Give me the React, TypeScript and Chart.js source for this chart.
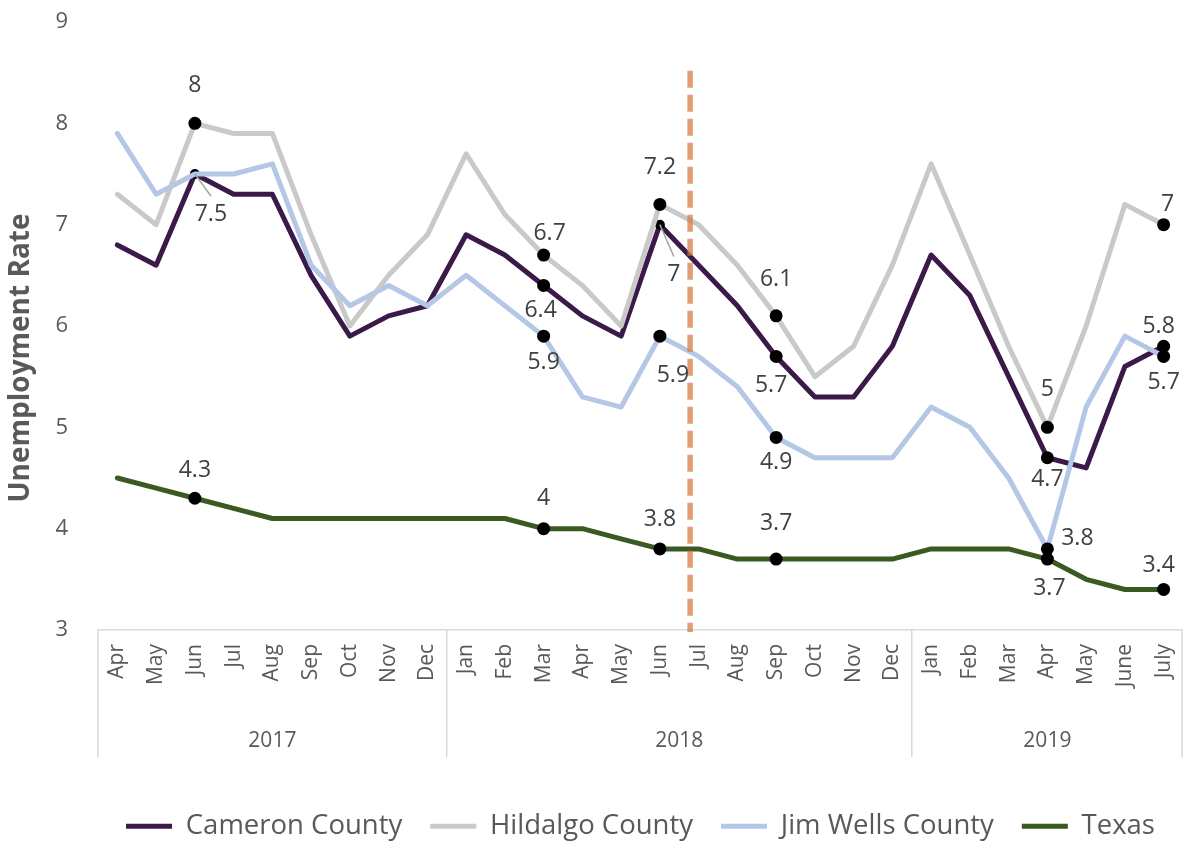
import { useEffect, useRef } from "react";
import { Chart, registerables } from "chart.js";

Chart.register(...registerables);

// ---------- data ----------
const months = ["Apr", "May", "Jun", "Jul", "Aug", "Sep", "Oct", "Nov", "Dec", "Jan", "Feb", "Mar", "Apr", "May", "Jun", "Jul", "Aug", "Sep", "Oct", "Nov", "Dec", "Jan", "Feb", "Mar", "Apr", "May", "June", "July"];
const years = ["2017", "2018", "2019"];
const yearMonthCounts = [9, 12, 7];

const cameron = [6.8, 6.6, 7.5, 7.3, 7.3, 6.5, 5.9, 6.1, 6.2, 6.9, 6.7, 6.4, 6.1, 5.9, 7.0, 6.6, 6.2, 5.7, 5.3, 5.3, 5.8, 6.7, 6.3, 5.5, 4.7, 4.6, 5.6, 5.8];
const hildalgo = [7.3, 7.0, 8.0, 7.9, 7.9, 6.9, 6.0, 6.5, 6.9, 7.7, 7.1, 6.7, 6.4, 6.0, 7.2, 7.0, 6.6, 6.1, 5.5, 5.8, 6.6, 7.6, 6.7, 5.8, 5.0, 6.0, 7.2, 7.0];
const jimWells = [7.9, 7.3, 7.5, 7.5, 7.6, 6.6, 6.2, 6.4, 6.2, 6.5, 6.2, 5.9, 5.3, 5.2, 5.9, 5.7, 5.4, 4.9, 4.7, 4.7, 4.7, 5.2, 5.0, 4.5, 3.8, 5.2, 5.9, 5.7];
const texas = [4.5, 4.4, 4.3, 4.2, 4.1, 4.1, 4.1, 4.1, 4.1, 4.1, 4.1, 4.0, 4.0, 3.9, 3.8, 3.8, 3.7, 3.7, 3.7, 3.7, 3.7, 3.8, 3.8, 3.8, 3.7, 3.5, 3.4, 3.4];

// indices of labelled points
const cameronLabelled = [2, 11, 14, 17, 24, 27];
const hildalgoLabelled = [2, 11, 14, 17, 24, 27];
const jimWellsLabelled = [11, 14, 17, 24, 27];
const texasLabelled = [2, 11, 14, 17, 24, 27];

// policy marker (between Jun and Jul 2018)
const markerPosition = 14.78;
const markerTop = 8.52;
const yTitle = "Unemployment Rate";

// ---------- styling ----------
const FONT = "'Open Sans', 'Noto Sans', sans-serif";
const TEXT = "#595959";
const LABEL = "#404040";
const colors = ["#3b1a4a", "#c9c9c9", "#b4c7e7", "#3b5a22"];

// label offsets (text centre relative to point) per dataset index
const labelOffsets: Record<number, Record<number, [number, number]>> = {
  0: { 2: [16, 40], 11: [-3, 25], 14: [14, 50], 17: [-5, 29], 24: [0, 22], 27: [-5, -20] },
  1: { 2: [0, -38], 11: [6, -22], 14: [0, -37], 17: [0, -36], 24: [0, -38], 27: [4, -20] },
  2: { 11: [0, 26], 14: [13, 39], 17: [0, 25], 24: [30, -10], 27: [0, 26] },
  3: { 2: [0, -28], 11: [0, -30], 14: [0, -29], 17: [0, -36], 24: [2, 29], 27: [-5, -24] },
};
const leaderLines: Record<number, number[]> = { 0: [2, 14] };

const extrasPlugin = {
  id: "extras",
  afterDatasetsDraw(chart: any) {
    const { ctx, scales, chartArea } = chart;
    const x = scales.x;
    const y = scales.y;
    // dashed marker
    ctx.save();
    const mx = x.getPixelForValue(markerPosition);
    ctx.strokeStyle = "rgba(214,120,60,0.72)";
    ctx.lineWidth = 5.5;
    ctx.setLineDash([17, 7]);
    ctx.beginPath();
    ctx.moveTo(mx, y.getPixelForValue(markerTop));
    ctx.lineTo(mx, chartArea.bottom + 2);
    ctx.stroke();
    ctx.restore();

    // data labels
    ctx.save();
    ctx.font = `23px ${FONT}`;
    ctx.fillStyle = LABEL;
    ctx.textAlign = "center";
    ctx.textBaseline = "middle";
    chart.data.datasets.forEach((ds: any, di: number) => {
      const meta = chart.getDatasetMeta(di);
      const offs = labelOffsets[di] || {};
      Object.keys(offs).forEach((k) => {
        const i = Number(k);
        const pt = meta.data[i];
        if (!pt) return;
        const [dx, dy] = offs[i];
        if ((leaderLines[di] || []).includes(i)) {
          ctx.save();
          ctx.strokeStyle = "#a6a6a6";
          ctx.lineWidth = 1.5;
          ctx.beginPath();
          ctx.moveTo(pt.x, pt.y);
          ctx.lineTo(pt.x + dx, pt.y + dy - 18);
          ctx.stroke();
          ctx.restore();
        }
        ctx.fillText(String(ds.data[i]), pt.x + dx, pt.y + dy);
      });
    });
    ctx.restore();
  },
  afterDraw(chart: any) {
    const { ctx, scales, chartArea } = chart;
    const x = scales.x;
    const step = x.getPixelForValue(1) - x.getPixelForValue(0);
    ctx.save();
    ctx.strokeStyle = "#d9d9d9";
    ctx.lineWidth = 1.5;
    ctx.fillStyle = TEXT;
    ctx.font = `21px ${FONT}`;
    ctx.textAlign = "center";
    ctx.textBaseline = "middle";
    let start = 0;
    const bottom = chartArea.bottom;
    const sepBottom = bottom + 127;
    const drawSep = (px: number) => {
      ctx.beginPath();
      ctx.moveTo(px, bottom);
      ctx.lineTo(px, sepBottom);
      ctx.stroke();
    };
    yearMonthCounts.forEach((n, yi) => {
      const left = x.getPixelForValue(start) - step / 2;
      const right = x.getPixelForValue(start + n - 1) + step / 2;
      drawSep(left);
      if (yi === yearMonthCounts.length - 1) drawSep(Math.min(right, chart.width - 1));
      ctx.fillText(years[yi], (left + right) / 2, bottom + 111);
      start += n;
    });
    // y axis title
    ctx.save();
    ctx.translate(21, 358);
    ctx.rotate(-Math.PI / 2);
    ctx.font = `bold 28px ${FONT}`;
    ctx.fillStyle = TEXT;
    ctx.fillText(yTitle, 0, 0);
    ctx.restore();
    ctx.restore();
  },
};

const labelledSets = [cameronLabelled, hildalgoLabelled, jimWellsLabelled, texasLabelled];
const smallDots: Record<number, number[]> = { 0: [2, 14] };

function makeDataset(label: string, data: number[], di: number, order: number) {
  return {
    label,
    data,
    borderColor: colors[di],
    backgroundColor: colors[di],
    borderWidth: 5,
    borderJoinStyle: "round" as const,
    borderCapStyle: "round" as const,
    tension: 0,
    order,
    pointRadius: (c: any) =>
      labelledSets[di].includes(c.dataIndex) ? ((smallDots[di] || []).includes(c.dataIndex) ? 5 : 6.5) : 0,
    pointHoverRadius: 0,
    pointBackgroundColor: "#000",
    pointBorderColor: "#000",
    pointBorderWidth: 0,
  };
}

const LEGEND_FONT = 27.5;
const LEGEND_PAD = 28;

export default function App() {
  const ref = useRef<HTMLCanvasElement | null>(null);
  useEffect(() => {
    if (!ref.current) return;
    Chart.defaults.font.family = FONT;
    const chart = new Chart(ref.current, {
      type: "line",
      data: {
        labels: months,
        datasets: [
          makeDataset("Cameron County", cameron, 0, 3),
          makeDataset("Hildalgo County", hildalgo, 1, 2),
          makeDataset("Jim Wells County", jimWells, 2, 1),
          makeDataset("Texas", texas, 3, 0),
        ],
      },
      options: {
        animation: false,
        responsive: true,
        maintainAspectRatio: false,
        events: [],
        layout: { autoPadding: false, padding: { top: 22, right: 0, left: 0, bottom: -6 } },
        scales: {
          x: {
            offset: true,
            ticks: {
              autoSkip: false,
              minRotation: 90,
              maxRotation: 90,
              color: TEXT,
              font: { size: 21 },
              padding: 14,
            },
            grid: { display: false, drawTicks: false },
            border: { display: true, color: "#d9d9d9", width: 1.5 },
            afterFit: (s: any) => {
              s.height = 850 - (LEGEND_FONT + LEGEND_PAD + 10) - 630;
              s.paddingLeft = 0;
              s.paddingRight = 0;
            },
          },
          y: {
            min: 3,
            max: 9,
            ticks: { stepSize: 1, color: TEXT, font: { size: 22 }, padding: 30 },
            grid: { display: false, drawTicks: false },
            border: { display: false },
            title: { display: false },
            afterFit: (s: any) => {
              s.width = 98;
              s.paddingTop = 0;
              s.paddingBottom = 0;
            },
          },
        },
        plugins: {
          tooltip: { enabled: false },
          legend: {
            position: "bottom",
            fullSize: false,
            labels: {
              boxWidth: 46,
              boxHeight: 5,
              padding: LEGEND_PAD,
              color: TEXT,
              font: { size: LEGEND_FONT },
              generateLabels: (c: any) =>
                c.data.datasets.map((d: any, i: number) => ({
                  text: d.label,
                  fillStyle: d.borderColor,
                  strokeStyle: d.borderColor,
                  lineWidth: 0,
                  hidden: false,
                  datasetIndex: i,
                  fontColor: TEXT,
                })),
            },
          },
        },
      },
      plugins: [extrasPlugin],
    });
    return () => chart.destroy();
  }, []);
  return (
    <div style={{ position: "fixed", left: 0, top: 0, width: 1183, height: 844, background: "#fff" }}>
      <canvas ref={ref} />
    </div>
  );
}
